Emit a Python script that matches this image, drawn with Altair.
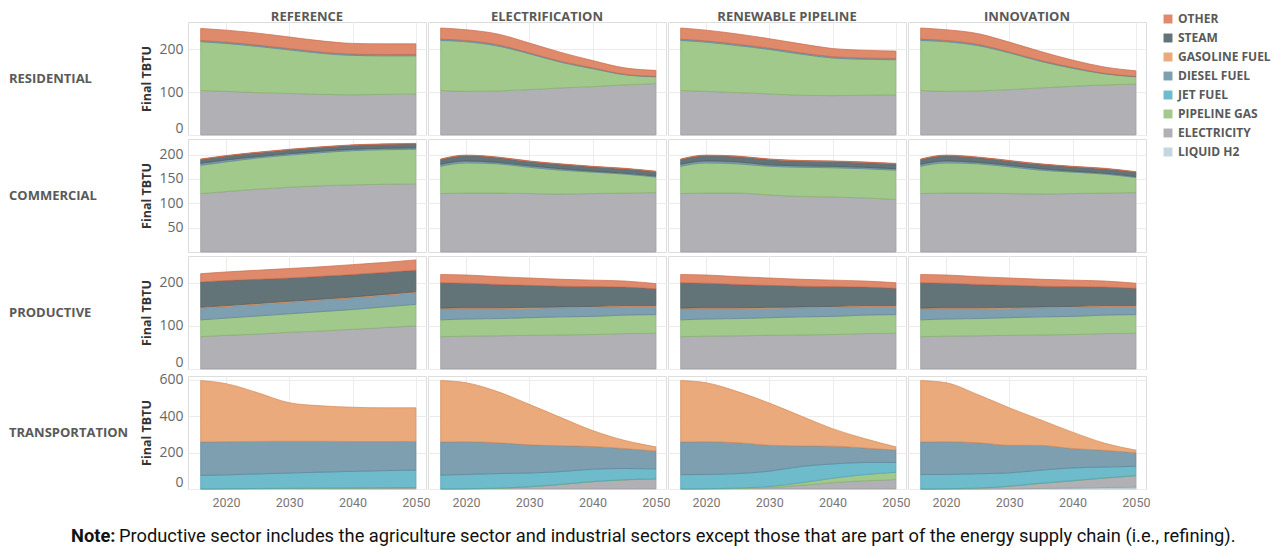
import altair as alt
import pandas as pd

YEARS = [2016, 2020, 2025, 2030, 2035, 2040, 2045, 2050]
YEAR_TICKS = [2020, 2030, 2040, 2050]
SCENARIOS = ["REFERENCE", "ELECTRIFICATION", "RENEWABLE PIPELINE", "INNOVATION"]
SECTORS = ["RESIDENTIAL", "COMMERCIAL", "PRODUCTIVE", "TRANSPORTATION"]
FUELS = ["OTHER", "STEAM", "GASOLINE FUEL", "DIESEL FUEL", "JET FUEL",
         "PIPELINE GAS", "ELECTRICITY", "LIQUID H2"]
COLORS = ["#e08a6c", "#637478", "#ebaa7b", "#7d9fb0", "#6dbbcb",
          "#a0c98b", "#b1b0b5", "#c3d7de"]
STROKES = ["#c8694c", "#4b5a5e", "#d48a58", "#5f8496", "#4fa2b3",
           "#84b06e", "#9a999e", "#a9c0c8"]

# ---- Residential ----
RES_REF = {"ELECTRICITY": [104, 102, 99, 97, 95, 94, 95, 96],
           "PIPELINE GAS": [114, 112, 108, 102, 96, 92, 90, 89],
           "DIESEL FUEL": [3, 3, 3, 3, 3, 3, 3, 3],
           "OTHER": [28, 28, 28, 27, 26, 25, 25, 25]}
RES_ELEC = {"ELECTRICITY": [104, 102, 103, 106, 110, 113, 117, 120],
            "PIPELINE GAS": [117, 116, 105, 84, 60, 42, 24, 16],
            "DIESEL FUEL": [3, 3, 3, 2, 2, 2, 1, 1],
            "OTHER": [26, 25, 25, 23, 21, 17, 15, 14]}
RES_RENEW = {"ELECTRICITY": [104, 102, 99, 96, 93, 92, 93, 94],
             "PIPELINE GAS": [117, 115, 110, 104, 96, 88, 84, 82],
             "DIESEL FUEL": [3, 3, 3, 3, 3, 3, 3, 3],
             "OTHER": [26, 25, 24, 22, 21, 19, 18, 17]}
RES_INNOV = {"ELECTRICITY": [104, 102, 103, 106, 110, 114, 117, 119],
             "PIPELINE GAS": [117, 116, 106, 86, 62, 42, 26, 17],
             "DIESEL FUEL": [3, 3, 3, 2, 2, 2, 1, 1],
             "OTHER": [26, 25, 25, 23, 21, 17, 15, 13]}

# ---- Commercial ----
COM_REF = {"ELECTRICITY": [120, 124, 129, 133, 136, 138, 139, 140],
           "PIPELINE GAS": [58, 61, 64, 66, 68, 70, 71, 71],
           "DIESEL FUEL": [4, 4, 3, 3, 3, 3, 3, 3],
           "STEAM": [8, 8, 8, 8, 8, 8, 8, 8],
           "OTHER": [1, 1, 1, 1, 1, 1, 1, 1]}
COM_ELEC = {"ELECTRICITY": [120, 121, 121, 120, 119, 120, 121, 122],
            "PIPELINE GAS": [56, 62, 60, 54, 49, 44, 39, 32],
            "DIESEL FUEL": [4, 4, 3, 3, 3, 2, 2, 2],
            "STEAM": [10, 11, 10, 9, 9, 9, 9, 9],
            "OTHER": [1, 1, 1, 1, 1, 1, 1, 1]}
COM_RENEW = {"ELECTRICITY": [120, 121, 121, 117, 114, 113, 111, 108],
             "PIPELINE GAS": [56, 62, 60, 59, 60, 60, 60, 60],
             "DIESEL FUEL": [4, 4, 4, 3, 3, 3, 3, 3],
             "STEAM": [10, 11, 11, 11, 10, 10, 10, 10],
             "OTHER": [1, 1, 1, 1, 1, 1, 1, 1]}
COM_INNOV = {"ELECTRICITY": [120, 121, 121, 120, 119, 120, 121, 122],
             "PIPELINE GAS": [56, 62, 60, 55, 49, 44, 39, 31],
             "DIESEL FUEL": [4, 4, 3, 3, 3, 2, 2, 2],
             "STEAM": [10, 11, 10, 9, 9, 9, 9, 9],
             "OTHER": [1, 1, 1, 1, 1, 1, 1, 1]}

# ---- Productive ----
PRO_REF = {"ELECTRICITY": [75, 78, 81, 85, 88, 92, 96, 100],
           "PIPELINE GAS": [39, 40, 42, 43, 45, 46, 48, 50],
           "DIESEL FUEL": [27, 27, 27, 27, 27, 27, 27, 27],
           "GASOLINE FUEL": [2, 2, 2, 2, 2, 2, 2, 2],
           "STEAM": [59, 58, 56, 54, 53, 52, 51, 50],
           "OTHER": [19, 20, 21, 22, 22, 23, 23, 24]}
PRO_ELEC = {"ELECTRICITY": [75, 76, 77, 78, 79, 80, 82, 83],
            "PIPELINE GAS": [39, 40, 40, 41, 42, 42, 43, 43],
            "DIESEL FUEL": [25, 24, 23, 22, 21, 21, 20, 19],
            "GASOLINE FUEL": [2, 2, 2, 2, 2, 2, 2, 2],
            "STEAM": [59, 57, 54, 51, 48, 46, 43, 39],
            "OTHER": [19, 19, 18, 17, 16, 15, 14, 12]}
PRO_RENEW = {"ELECTRICITY": [75, 76, 77, 78, 79, 80, 82, 83],
             "PIPELINE GAS": [39, 40, 40, 41, 42, 42, 43, 43],
             "DIESEL FUEL": [25, 24, 23, 22, 21, 21, 20, 19],
             "GASOLINE FUEL": [2, 2, 2, 2, 2, 2, 2, 2],
             "STEAM": [59, 57, 54, 51, 48, 46, 43, 40],
             "OTHER": [19, 19, 18, 17, 16, 15, 14, 13]}
PRO_INNOV = {"ELECTRICITY": [75, 76, 77, 78, 79, 80, 82, 83],
             "PIPELINE GAS": [39, 40, 40, 41, 42, 42, 43, 43],
             "DIESEL FUEL": [25, 24, 23, 22, 21, 21, 20, 19],
             "GASOLINE FUEL": [2, 2, 2, 2, 2, 2, 2, 2],
             "STEAM": [59, 57, 54, 51, 48, 46, 43, 40],
             "OTHER": [19, 19, 18, 17, 16, 15, 14, 12]}

# ---- Transportation ----
TRA_REF = {"ELECTRICITY": [0, 1, 2, 3, 4, 5, 6, 7],
           "PIPELINE GAS": [1, 1, 1, 1, 1, 1, 1, 1],
           "JET FUEL": [74, 76, 80, 84, 88, 91, 94, 96],
           "DIESEL FUEL": [184, 182, 179, 175, 170, 164, 160, 158],
           "GASOLINE FUEL": [338, 320, 268, 212, 195, 189, 186, 185]}
TRA_ELEC = {"ELECTRICITY": [0, 1, 4, 12, 25, 40, 50, 55],
            "PIPELINE GAS": [1, 1, 1, 1, 1, 1, 1, 1],
            "JET FUEL": [76, 78, 80, 75, 70, 68, 62, 55],
            "DIESEL FUEL": [182, 180, 170, 155, 142, 125, 110, 98],
            "GASOLINE FUEL": [338, 325, 281, 223, 155, 88, 45, 23]}
TRA_RENEW = {"ELECTRICITY": [0, 1, 3, 8, 20, 35, 45, 52],
             "PIPELINE GAS": [1, 1, 2, 6, 14, 24, 34, 40],
             "JET FUEL": [78, 78, 80, 84, 90, 79, 67, 54],
             "DIESEL FUEL": [180, 180, 170, 143, 113, 98, 80, 68],
             "GASOLINE FUEL": [338, 325, 281, 232, 165, 96, 52, 18]}
TRA_INNOV = {"LIQUID H2": [0, 0, 0, 1, 3, 5, 8, 10],
             "ELECTRICITY": [0, 1, 4, 14, 28, 40, 52, 63],
             "PIPELINE GAS": [1, 1, 1, 1, 1, 1, 1, 1],
             "JET FUEL": [79, 78, 79, 73, 72, 70, 60, 51],
             "DIESEL FUEL": [179, 180, 171, 152, 136, 107, 92, 75],
             "GASOLINE FUEL": [338, 325, 265, 206, 140, 90, 40, 14]}

PANELS = {
    ("RESIDENTIAL", "REFERENCE"): RES_REF, ("RESIDENTIAL", "ELECTRIFICATION"): RES_ELEC,
    ("RESIDENTIAL", "RENEWABLE PIPELINE"): RES_RENEW, ("RESIDENTIAL", "INNOVATION"): RES_INNOV,
    ("COMMERCIAL", "REFERENCE"): COM_REF, ("COMMERCIAL", "ELECTRIFICATION"): COM_ELEC,
    ("COMMERCIAL", "RENEWABLE PIPELINE"): COM_RENEW, ("COMMERCIAL", "INNOVATION"): COM_INNOV,
    ("PRODUCTIVE", "REFERENCE"): PRO_REF, ("PRODUCTIVE", "ELECTRIFICATION"): PRO_ELEC,
    ("PRODUCTIVE", "RENEWABLE PIPELINE"): PRO_RENEW, ("PRODUCTIVE", "INNOVATION"): PRO_INNOV,
    ("TRANSPORTATION", "REFERENCE"): TRA_REF, ("TRANSPORTATION", "ELECTRIFICATION"): TRA_ELEC,
    ("TRANSPORTATION", "RENEWABLE PIPELINE"): TRA_RENEW, ("TRANSPORTATION", "INNOVATION"): TRA_INNOV,
}

Y_MAX = {"RESIDENTIAL": 264, "COMMERCIAL": 232, "PRODUCTIVE": 262, "TRANSPORTATION": 622}
Y_TICKS = {"RESIDENTIAL": [0, 100, 200], "COMMERCIAL": [50, 100, 150, 200],
           "PRODUCTIVE": [0, 100, 200], "TRANSPORTATION": [0, 200, 400, 600]}

NOTE_BOLD = "Note:"
NOTE_TEXT = ("Productive sector includes the agriculture sector and industrial sectors "
             "except those that are part of the energy supply chain (i.e., refining).")

rows = []
for (sector, scen), fuels in PANELS.items():
    for fuel, vals in fuels.items():
        for yr, v in zip(YEARS, vals):
            rows.append({"sector": sector, "scenario": scen, "fuel": fuel, "year": yr,
                         "value": v, "order": len(FUELS) - 1 - FUELS.index(fuel)})
df = pd.DataFrame(rows)

FONT = "Open Sans"
NARROW = "Liberation Sans Narrow, Roboto, Open Sans"
TXT = "#595959"
CELL_W = 238
CELL_H = 113


def sector_row(sector, first, last):
    sub = df[df["sector"] == sector]
    x_axis = alt.Axis(values=YEAR_TICKS, format="d", labels=last, ticks=False, domain=False,
                      grid=True, gridColor="#ececec", labelFont=NARROW, labelFontSize=12.5,
                      labelColor="#777777", labelPadding=(5 if last else 0), title=None)
    y_axis = alt.Axis(values=Y_TICKS[sector], title="Final TBTU", titleFont=FONT,
                      titleFontWeight="bold", titleFontSize=12.5, titleColor="#333333",
                      titlePadding=6, labelFont=FONT, labelFontSize=14, labelColor="#666666",
                      labelPadding=4, ticks=False, domain=False, grid=True,
                      gridColor="#ececec", labelFlush=True, minExtent=28, maxExtent=28)
    area = alt.Chart(sub).mark_area(interpolate="monotone", strokeWidth=0.7).encode(
        x=alt.X("year:Q", scale=alt.Scale(domain=[2014, 2051.6], nice=False, zero=False),
                axis=x_axis),
        y=alt.Y("value:Q", stack="zero",
                scale=alt.Scale(domain=[0, Y_MAX[sector]], nice=False), axis=y_axis),
        color=alt.Color("fuel:N", scale=alt.Scale(domain=FUELS, range=COLORS),
                        legend=alt.Legend(title=None, orient="none", legendX=1153, legendY=-9,
                                          symbolType="square", symbolSize=80,
                                          symbolStrokeWidth=0, labelFont=FONT,
                                          labelFontSize=12, labelFontWeight="bold",
                                          labelColor=TXT, rowPadding=7)),
        stroke=alt.Stroke("fuel:N", scale=alt.Scale(domain=FUELS, range=STROKES), legend=None),
        order=alt.Order("order:Q", sort="ascending"),
    ).properties(width=CELL_W, height=CELL_H)
    fac = area.facet(
        column=alt.Column("scenario:N", sort=SCENARIOS, title=None,
                          header=alt.Header(labels=first, labelFont=FONT, labelFontSize=13,
                                            labelFontWeight="bold", labelColor=TXT,
                                            labelPadding=(-3 if first else 0))),
        spacing=0,
    )
    label = alt.Chart(pd.DataFrame({"t": [sector]})).mark_text(
        align="left", baseline="middle", font=FONT, fontSize=13, fontWeight="bold", color=TXT
    ).encode(text="t:N", x=alt.value(0), y=alt.value(CELL_H / 2)).properties(
        width=130, height=CELL_H, view=alt.ViewBackground(stroke="transparent"))
    return alt.hconcat(label, fac, spacing=0)


note_df = pd.DataFrame({"b": [NOTE_BOLD], "t": [NOTE_TEXT]})
note_bold = alt.Chart(note_df).mark_text(
    align="left", baseline="middle", font=NARROW, fontSize=18.3, fontWeight="bold",
    color="#111111"
).encode(text="b:N", x=alt.value(62), y=alt.value(26))
note_rest = alt.Chart(note_df).mark_text(
    align="left", baseline="middle", font=NARROW, fontSize=18.3, color="#111111"
).encode(text="t:N", x=alt.value(110), y=alt.value(26))
note = alt.layer(note_bold, note_rest).properties(
    width=1100, height=36, view=alt.ViewBackground(stroke="transparent"))

chart = alt.vconcat(
    sector_row("RESIDENTIAL", True, False),
    sector_row("COMMERCIAL", False, False),
    sector_row("PRODUCTIVE", False, False),
    sector_row("TRANSPORTATION", False, True),
    note,
    spacing=1,
).properties(padding={"left": 0, "top": 3, "right": 0, "bottom": 0}).configure_view(
    stroke="#dedede").configure(font=FONT)

chart.save("out.html", embed_options={"renderer": "svg", "actions": False})
